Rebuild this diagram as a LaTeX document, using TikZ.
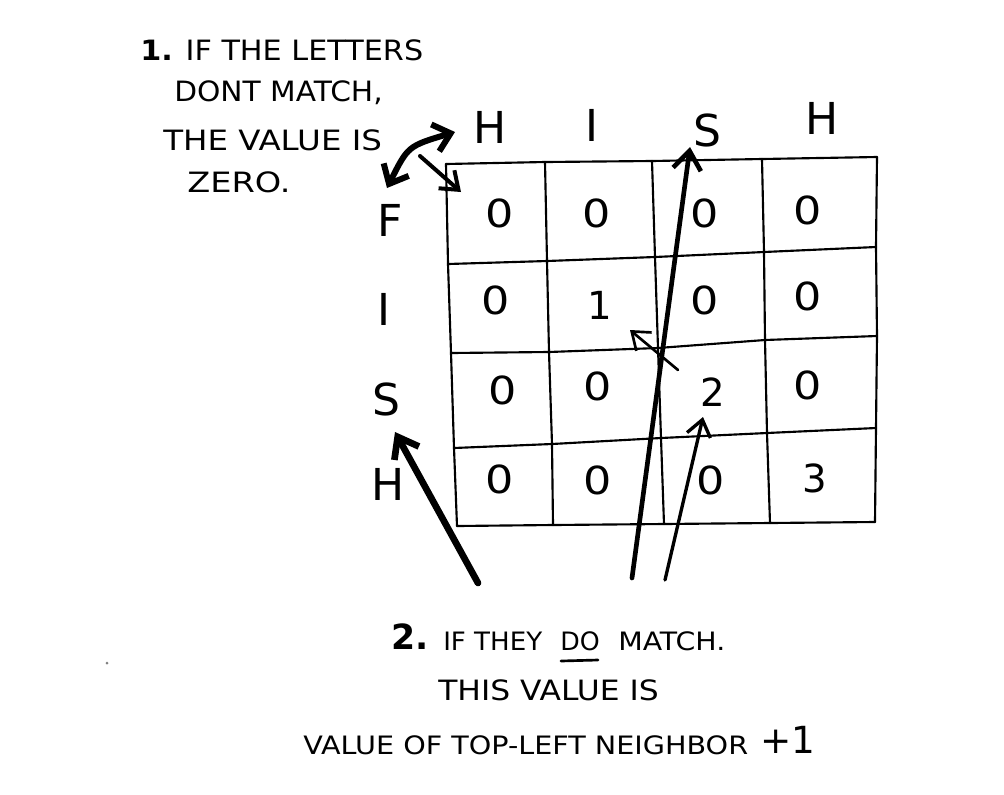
\documentclass[tikz,border=0pt]{standalone}
\usepackage{fontspec}
\setmainfont{DejaVu Sans}
\usetikzlibrary{arrows.meta}
\begin{document}
\begin{tikzpicture}[x=0.75pt,y=-0.75pt,
  hand/.style={font=\fontsize{21}{23}\selectfont, inner sep=0pt, anchor=west},
  handsm/.style={font=\fontsize{19}{21}\selectfont, inner sep=0pt, anchor=west},
  hdr/.style={font=\fontsize{33}{36}\selectfont, inner sep=0pt},
  cell/.style={font=\fontsize{29}{32}\selectfont, inner sep=0pt},
  gridline/.style={line width=1.6pt, line join=round, line cap=round},
  arr/.style={-{Straight Barb[length=12pt,width=18pt]}, line cap=round},
  bigarr/.style={-{Straight Barb[length=14pt,width=21pt]}, line cap=round},
]
\fill[white] (0,0) rectangle (1004,794);
\useasboundingbox (0,0) rectangle (1004,794);

% grid points g<col><row>
\coordinate (g00) at (446,164); \coordinate (g01) at (448,264); \coordinate (g02) at (451,353); \coordinate (g03) at (454,448); \coordinate (g04) at (457,526);
\coordinate (g10) at (545,162); \coordinate (g11) at (547,261); \coordinate (g12) at (549,352); \coordinate (g13) at (552,444); \coordinate (g14) at (553,525);
\coordinate (g20) at (652,161); \coordinate (g21) at (655,257); \coordinate (g22) at (658,348); \coordinate (g23) at (661,438); \coordinate (g24) at (664,524);
\coordinate (g30) at (762,159); \coordinate (g31) at (764,252); \coordinate (g32) at (765,340); \coordinate (g33) at (767,433); \coordinate (g34) at (770,523);
\coordinate (g40) at (877,157); \coordinate (g41) at (876,247); \coordinate (g42) at (877,336); \coordinate (g43) at (876,428); \coordinate (g44) at (875,522);

\foreach \r in {0,...,4} {\draw[gridline] (g0\r) -- (g1\r) -- (g2\r) -- (g3\r) -- (g4\r);}
\foreach \c in {0,...,4} {\draw[gridline] (g\c0) -- (g\c1) -- (g\c2) -- (g\c3) -- (g\c4);}

% first note
\node[hand] (t1) at (140,50) {\scalebox{1.08}[1]{\textbf{1.} IF THE LETTERS}};
\node[hand] (t2) at (174,93) {\scalebox{1.06}[1]{DONT MATCH,}};
\node[hand] (t3) at (163,140) {\scalebox{1.16}[1]{THE VALUE IS}};
\node[hand] (t4) at (187,182) {\scalebox{1.2}[1]{ZERO.}};

% column headers
\node[hdr] (cH1) at (490,127) {H};
\node[hdr] (cI) at (592,125) {I};
\node[hdr] (cS) at (707,130) {S};
\node[hdr] (cH2) at (822,118) {H};
% row headers
\node[hdr] (rF) at (390,220) {F};
\node[hdr] (rI) at (384,309) {I};
\node[hdr] (rS) at (386,399) {S};
\node[hdr] (rH) at (388,484) {H};

% cells
\node[cell] (c11) at (500,213) {\scalebox{1.15}[1]{0}};
\node[cell] (c12) at (597,213) {\scalebox{1.15}[1]{0}};
\node[cell] (c13) at (705,213) {\scalebox{1.15}[1]{0}};
\node[cell] (c14) at (808,210) {\scalebox{1.15}[1]{0}};
\node[cell] (c21) at (496,300) {\scalebox{1.15}[1]{0}};
\node[cell] (c22) at (600,305) {1};
\node[cell] (c23) at (705,300) {\scalebox{1.15}[1]{0}};
\node[cell] (c24) at (808,296) {\scalebox{1.15}[1]{0}};
\node[cell] (c31) at (503,390) {\scalebox{1.15}[1]{0}};
\node[cell] (c32) at (598,386) {\scalebox{1.15}[1]{0}};
\node[cell] (c33) at (713,392) {2};
\node[cell] (c34) at (808,385) {\scalebox{1.15}[1]{0}};
\node[cell] (c41) at (500,479) {\scalebox{1.15}[1]{0}};
\node[cell] (c42) at (598,480) {\scalebox{1.15}[1]{0}};
\node[cell] (c43) at (711,480) {\scalebox{1.15}[1]{0}};
\node[cell] (c44) at (815,478) {3};

% second note
\node[font=\fontsize{26}{28}\selectfont\bfseries, inner sep=0pt, anchor=west] (n2) at (391,637) {2.};
\node[handsm] (l1a) at (443,641) {\scalebox{1.03}[1]{IF THEY}};
\node[handsm] (l1b) at (560,641) {DO};
\node[handsm] (l1c) at (618,641) {\scalebox{1.12}[1]{MATCH.}};
\draw[line width=2pt, line cap=round] (561,661) -- (598,660);
\node[hand] (l2) at (438,690) {\scalebox{1.12}[1]{THIS VALUE IS}};
\node[handsm] (l3) at (303,745) {\scalebox{1.13}[1]{VALUE OF TOP-LEFT NEIGHBOR}};
\node[font=\fontsize{28}{30}\selectfont, inner sep=0pt, anchor=west] (l3p) at (760,740) {+1};

% arrows
\coordinate (d1) at (387,188); \coordinate (d2) at (455,132);
\draw[line width=4.5pt, line cap=round, {Straight Barb[length=12pt,width=21pt]}-{Straight Barb[length=12pt,width=21pt]}] (d1) .. controls (408,146) .. (d2);
\coordinate (b0) at (420,156); \coordinate (b1) at (461,192);
\draw[arr, line width=3pt] (b0) -- (b1);

\coordinate (L0) at (632,578); \coordinate (L1) at (690,147);
\draw[bigarr, line width=3.5pt] (L0) -- (L1);
\coordinate (m0) at (665,580); \coordinate (m1) at (703,417);
\draw[arr, line width=2.5pt] (m0) -- (m1);
\coordinate (s0) at (678,370); \coordinate (s1) at (630,330);
\draw[arr, line width=2pt] (s0) -- (s1);
\coordinate (a0) at (478,583); \coordinate (a1) at (395,432);
\draw[bigarr, line width=5pt] (a0) -- (a1);

\fill[gray] (107,663) circle (1.5);
\end{tikzpicture}
\end{document}
